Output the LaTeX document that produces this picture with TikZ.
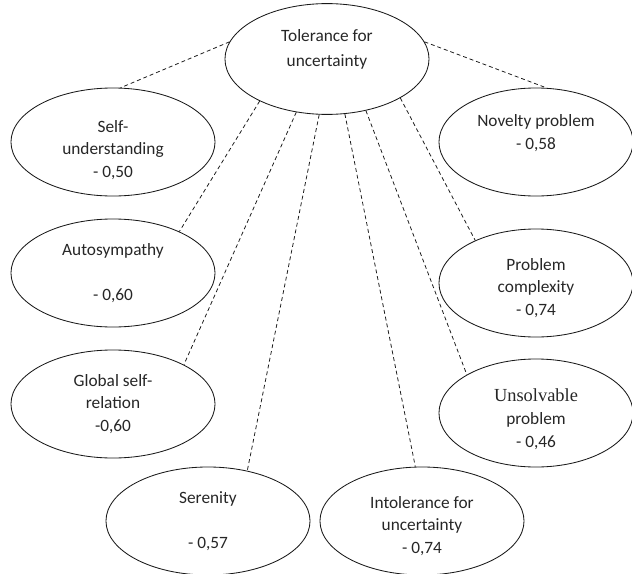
\documentclass[tikz,border=0pt]{standalone}
\usepackage{fontspec}
\setmainfont{Carlito}
\newfontfamily\timesfont{Liberation Serif}
\usetikzlibrary{shapes}
\newcommand{\lowr}[1]{\rule{0pt}{#1}}

\begin{document}
\begin{tikzpicture}[x=0.025cm, y=-0.025cm,
    factor/.style={draw=black!90, ellipse, line width=0.6pt, minimum width=5.1cm, minimum height=2.7cm, inner sep=0pt, align=center, text=black!85, font=\fontsize{12.3}{16.2}\selectfont},
    rfactor/.style={factor, minimum width=4.85cm},
    link/.style={draw=black!90, dash pattern=on 2.8pt off 2.1pt, line width=0.55pt}]
    \useasboundingbox (0,0) rectangle (632,573);

    \node[factor, font=\fontsize{12.3}{17.4}\selectfont] (tol) at (327,59) {\lowr{15.7pt}Tolerance for\\uncertainty\\ \strut};

    \node[factor] (self) at (113,142) {\lowr{20pt}Self-\\understanding\\- 0,50};
    \node[factor] (auto) at (113,273) {Autosympathy\\ \strut\\- 0,60};
    \node[factor] (glob) at (113,404) {Global self-\\relation\\-0,60};
    \node[factor] (seren) at (208,521) {Serenity\\ \strut\\- 0,57};
    \node[factor] (intol) at (422,521) {\lowr{15.7pt}Intolerance for\\uncertainty\\- 0,74};
    \node[rfactor] (unsolv) at (536,413) {\timesfont\fontsize{13.1}{17}\selectfont\lowr{18pt}Unsolvable\\problem\\\rmfamily - 0,46};
    \node[rfactor] (compl) at (536,283) {\lowr{15.7pt}Problem\\complexity\\- 0,74};
    \node[rfactor] (novel) at (536,142) {\lowr{15.7pt}Novelty problem\\- 0,58\\ \strut};

    \draw[link] (tol.170.5) -- (self.82.6);
    \draw[link] (tol.10) -- (novel.79.5);
    \draw[link] (tol.212) -- (auto.32.7);
    \draw[link] (tol.240.5) -- (glob.29);
    \draw[link] (tol.262.6) -- (seren.52);
    \draw[link] (tol.288.4) -- (intol.97.4);
    \draw[link] (tol.307.7) -- (unsolv.151);
    \draw[link] (tol.332.3) -- (compl.145);
\end{tikzpicture}
\end{document}
